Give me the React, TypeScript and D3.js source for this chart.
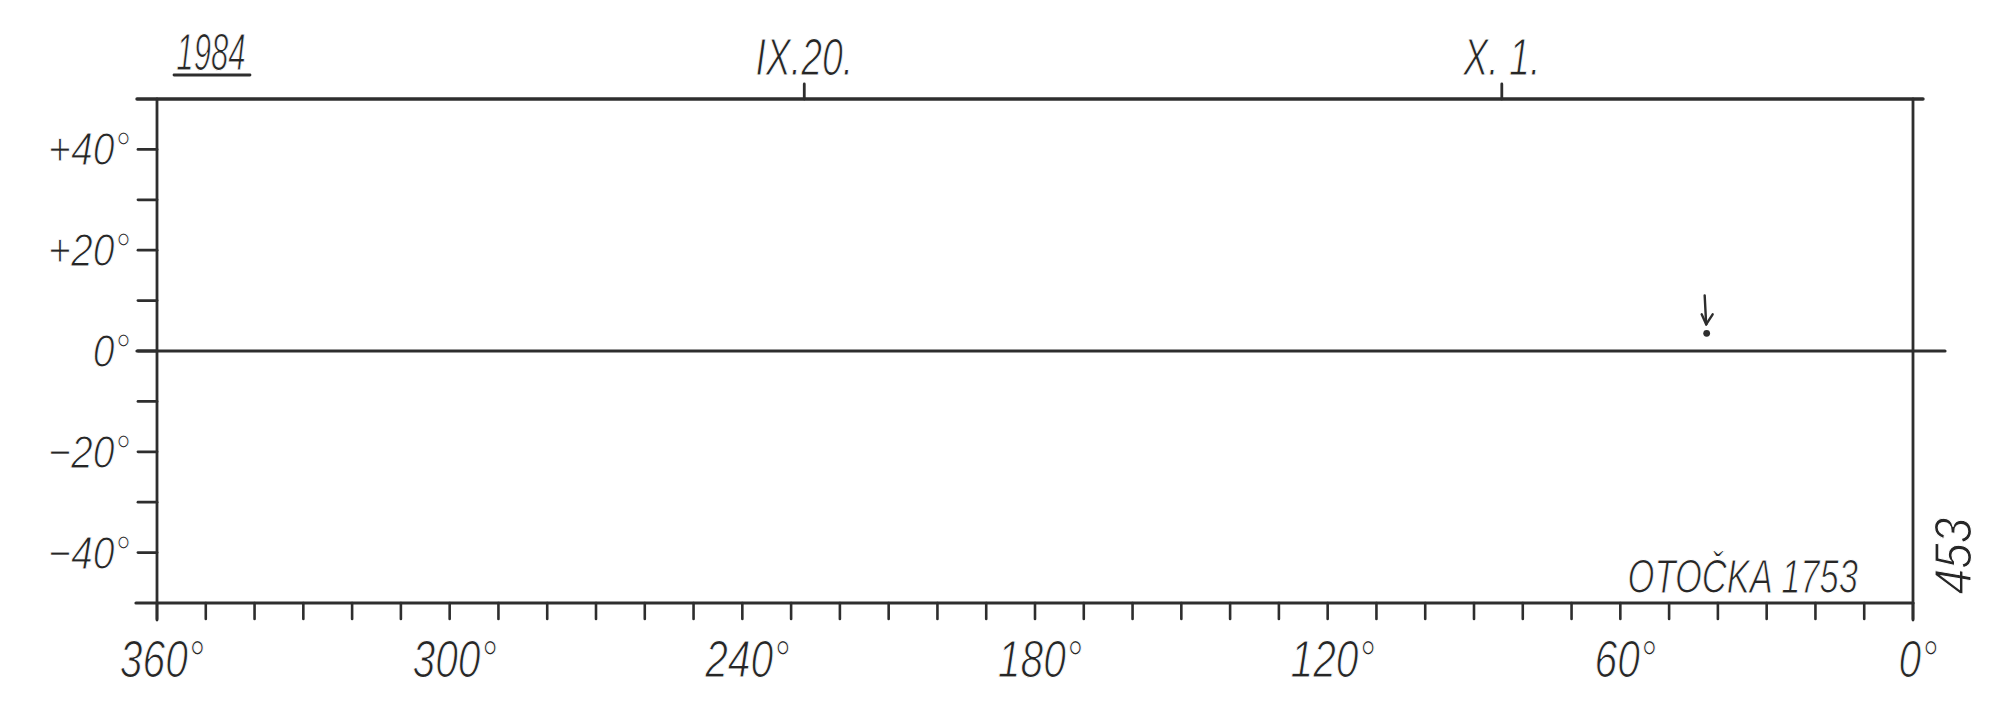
import React from "react";
import * as d3 from "d3";

// ---- data ----
const lonLabels = [360, 300, 240, 180, 120, 60, 0];
const lonTickValues = [360, 350, 340, 330, 320, 310, 300, 290, 280, 270, 260, 250, 240, 230, 220, 210, 200, 190, 180, 170, 160, 150, 140, 130, 120, 110, 100, 90, 80, 70, 60, 50, 40, 30, 20, 10, 0];
const latLabels = [40, 20, 0, -20, -40];
const latLabelText = ["+40°", "+20°", "0°", "−20°", "−40°"];
const latTickValues = [40, 30, 20, 10, 0, -10, -20, -30, -40];
const dateLabels = ["IX.20.", "X. 1."];
const dateLons = [227.3, 84.3];
const pointLons = [42.3];
const pointLats = [3.5];
const yearLabel = "1984";
const rotationLabel = "OTOČKA 1753";
const chartNumber = "453";

// ---- layout / style ----
const W = 2000;
const H = 713;
const INK = "#2e2e2e";
const TXT = "#262626";
const FONT = "'Liberation Sans', Arial, sans-serif";

export default function App() {
  const x = d3.scaleLinear().domain([360, 0]).range([157, 1913]);
  const y = d3.scaleLinear().domain([-50, 50]).range([603, 99]);

  const x0 = x(360);
  const x1 = x(0);
  const yTop = y(50);
  const yBot = y(-50);

  const txt = (
    key: string,
    s: string,
    tx: number,
    ty: number,
    size: number,
    sx: number,
    anchor: string,
    extra = ""
  ) => (
    <text
      key={key}
      transform={`translate(${tx},${ty}) ${extra} scale(${sx},1)`}
      textAnchor={anchor}
      fontFamily={FONT}
      fontStyle="italic"
      fontSize={size}
      fill={TXT}
      stroke="#fff"
      strokeWidth={1.1}
    >
      {s}
    </text>
  );

  return (
    <svg
      width={W}
      height={H}
      viewBox={`0 0 ${W} ${H}`}
      style={{ position: "absolute", left: 0, top: 0, display: "block", background: "#fff" }}
    >
      <rect x={0} y={0} width={W} height={H} fill="#fff" />
      <g stroke={INK} strokeLinecap="round" fill="none">
        {/* frame */}
        <line x1={x0 - 20} y1={yTop} x2={x1 + 10} y2={yTop} strokeWidth={3.4} />
        <line x1={x0 - 21} y1={yBot} x2={x1} y2={yBot} strokeWidth={3.2} />
        <line x1={x0 - 20} y1={y(0)} x2={x1 + 32} y2={y(0)} strokeWidth={3.2} />
        <line x1={x0} y1={yTop} x2={x0} y2={yBot + 17} strokeWidth={2.8} />
        <line x1={x1} y1={yTop} x2={x1} y2={yBot + 17} strokeWidth={2.8} />
        {/* latitude ticks */}
        {latTickValues.map((v) => (
          <line key={"lt" + v} x1={x0 - 19} y1={y(v)} x2={x0} y2={y(v)} strokeWidth={2.8} />
        ))}
        {/* longitude ticks */}
        {lonTickValues.map((v) => (
          <line key={"ln" + v} x1={x(v)} y1={yBot} x2={x(v)} y2={yBot + 16} strokeWidth={2.6} />
        ))}
        {/* date ticks */}
        {dateLons.map((v, i) => (
          <line key={"dt" + i} x1={x(v)} y1={yTop - 15} x2={x(v)} y2={yTop} strokeWidth={2.8} />
        ))}
        {/* year underline */}
        <line x1={174} y1={75} x2={250} y2={75} strokeWidth={2.8} />
      </g>

      {/* data points with arrow markers */}
      {pointLons.map((lon, i) => {
        const px = x(lon);
        const py = y(pointLats[i]);
        const tipY = py - 9;
        return (
          <g key={"p" + i}>
            <circle cx={px} cy={py} r={3.4} fill={INK} />
            <g stroke={INK} strokeWidth={2.4} strokeLinecap="round" fill="none">
              <line x1={px - 2} y1={py - 38} x2={px - 0.5} y2={tipY} />
              <line x1={px - 0.5} y1={tipY} x2={px - 5} y2={tipY - 10} />
              <line x1={px - 0.5} y1={tipY} x2={px + 6} y2={tipY - 10} />
            </g>
          </g>
        );
      })}

      {/* latitude labels */}
      {latLabels.map((v, i) => txt("ll" + v, latLabelText[i], x0 - 27, y(v) + 16, 46, 0.85, "end"))}

      {/* longitude labels */}
      {lonLabels.map((v) => txt("lo" + v, `${v}°`, x(v) + 5, 677, 51, 0.8, "middle"))}

      {/* date labels */}
      {dateLabels.map((s, i) => txt("dl" + i, s, x(dateLons[i]), 75, 52, 0.72, "middle"))}

      {/* year */}
      {txt("yr", yearLabel, 211, 70, 52, 0.6, "middle")}

      {/* rotation label */}
      {txt("rot", rotationLabel, 1858, 593, 48, 0.72, "end")}

      {/* chart number, vertical */}
      {txt("num", chartNumber, 1971, 556, 52, 0.88, "middle", "rotate(-90)")}
    </svg>
  );
}
